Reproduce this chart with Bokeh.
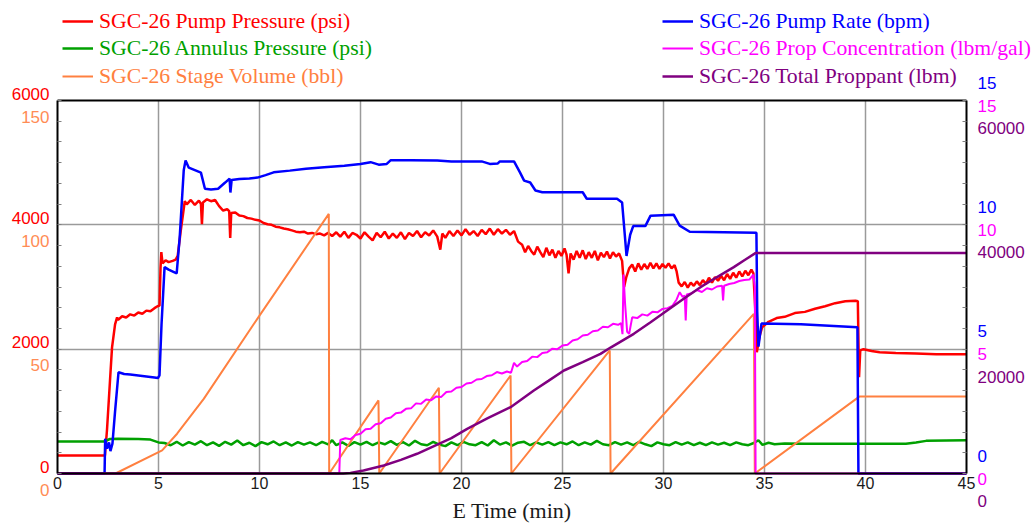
from bokeh.plotting import figure
from bokeh.models import (Range1d, LinearAxis, FixedTicker, Legend, LegendItem,
                          CustomJSTickFormatter)
from bokeh.embed import file_html
from bokeh.resources import INLINE

# ---------------- data (time in minutes, value) ----------------
pump_pressure = [
    (0, 290), (2.35, 290), (2.45, 700), (2.6, 1500), (2.7, 2030), (2.85, 2400), (2.95, 2510),
    (3.0, 2470), (3.2, 2530), (3.4, 2510), (3.6, 2560), (3.8, 2540), (4.0, 2590), (4.2, 2570),
    (4.4, 2620), (4.6, 2610), (4.8, 2660), (4.95, 2690), (5.05, 2700), (5.1, 3300), (5.14, 3560),
    (5.2, 3380), (5.35, 3430), (5.5, 3400), (5.7, 3420), (5.85, 3440), (5.95, 3500), (6.1, 3900),
    (6.3, 4380), (6.4, 4330), (6.6, 4400), (6.8, 4320), (7.0, 4390), (7.1, 4340), (7.15, 4010),
    (7.2, 4360), (7.4, 4410), (7.6, 4380), (7.8, 4400), (8.0, 4300), (8.2, 4230), (8.4, 4250),
    (8.5, 4220), (8.55, 3790), (8.6, 4190), (8.8, 4200), (9.0, 4150), (9.2, 4140), (9.4, 4110),
    (9.6, 4100), (9.8, 4080), (10.0, 4070), (10.2, 4030), (10.4, 4010), (10.6, 4000), (10.8, 3970),
    (11.0, 3960), (11.2, 3940), (11.4, 3930), (11.6, 3910), (11.8, 3890), (12.0, 3880), (12.2, 3890),
    (12.4, 3860), (12.6, 3870), (12.8, 3850), (13.0, 3860), (13.2, 3830), (13.4, 3870), (13.6, 3820),
    (13.8, 3880), (14.0, 3810), (14.2, 3890), (14.4, 3790), (14.6, 3870), (14.8, 3840), (15.0, 3780),
    (15.2, 3880), (15.4, 3810), (15.6, 3750), (15.8, 3870), (16.0, 3800), (16.2, 3890), (16.4, 3780),
    (16.6, 3860), (16.8, 3790), (17.0, 3880), (17.2, 3770), (17.4, 3870), (17.6, 3820), (17.8, 3900),
    (18.0, 3800), (18.2, 3880), (18.4, 3830), (18.6, 3910), (18.8, 3810), (18.95, 3600), (19.05, 3860),
    (19.2, 3790), (19.4, 3900), (19.6, 3820), (19.8, 3910), (20.0, 3830), (20.2, 3930), (20.4, 3840),
    (20.6, 3900), (20.8, 3820), (21.0, 3920), (21.2, 3850), (21.4, 3940), (21.6, 3840), (21.8, 3930),
    (22.0, 3860), (22.2, 3920), (22.4, 3840), (22.6, 3900), (22.8, 3730), (23.0, 3680), (23.15, 3560),
    (23.3, 3660), (23.45, 3580), (23.6, 3520), (23.75, 3650), (23.9, 3560), (24.05, 3480), (24.2, 3630),
    (24.35, 3510), (24.5, 3600), (24.65, 3470), (24.8, 3580), (24.95, 3500), (25.1, 3620), (25.2, 3520),
    (25.3, 3220), (25.4, 3540), (25.55, 3440), (25.7, 3580), (25.85, 3470), (26.0, 3590), (26.15, 3450),
    (26.3, 3560), (26.45, 3470), (26.6, 3580), (26.75, 3430), (26.9, 3550), (27.05, 3480), (27.2, 3570),
    (27.35, 3460), (27.5, 3560), (27.65, 3490), (27.8, 3540), (27.95, 3420), (28.05, 3000), (28.15, 3150),
    (28.3, 3300), (28.45, 3360), (28.6, 3250), (28.75, 3380), (28.9, 3280), (29.05, 3370), (29.2, 3290),
    (29.35, 3390), (29.5, 3300), (29.65, 3380), (29.8, 3290), (29.95, 3370), (30.1, 3310), (30.25, 3380),
    (30.4, 3300), (30.55, 3350), (30.65, 3250), (30.75, 3070), (30.9, 3010), (31.05, 3080), (31.2, 2990),
    (31.35, 3070), (31.5, 3020), (31.65, 3090), (31.8, 3030), (31.95, 3110), (32.1, 3050), (32.25, 3150),
    (32.4, 3070), (32.55, 3160), (32.7, 3100), (32.85, 3180), (33.0, 3110), (33.15, 3210), (33.3, 3130),
    (33.45, 3230), (33.6, 3150), (33.75, 3250), (33.9, 3170), (34.05, 3260), (34.2, 3190), (34.35, 3280),
    (34.45, 3220), (34.55, 2600), (34.62, 1950), (34.75, 2200), (34.88, 2350), (35.2, 2440),
    (35.6, 2500), (36.0, 2520), (36.5, 2580), (37.0, 2600), (37.5, 2650), (38.0, 2690), (38.5, 2740),
    (39.0, 2770), (39.5, 2780), (39.62, 2770), (39.68, 1550), (39.74, 1980), (39.9, 2000),
    (40.3, 1970), (40.7, 1950), (41.5, 1940), (42.5, 1930), (43.5, 1920), (45.0, 1920),
]

annulus_pressure = [
    (0, 515), (2.3, 515), (2.6, 555), (3.0, 560), (4.0, 555), (4.6, 545), (5.0, 500), (5.3, 490),
    (5.6, 455), (5.9, 510), (6.2, 450), (6.5, 505), (6.8, 465), (7.1, 520), (7.4, 455), (7.7, 500),
    (8.0, 445), (8.3, 510), (8.6, 465), (8.9, 530), (9.2, 455), (9.5, 495), (9.8, 440), (10.1, 505),
    (10.4, 470), (10.7, 515), (11.0, 455), (11.3, 500), (11.6, 450), (11.9, 505), (12.2, 465),
    (12.5, 500), (12.8, 455), (13.1, 510), (13.4, 470), (13.6, 535), (13.8, 455), (14.1, 500),
    (14.4, 445), (14.7, 505), (15.0, 465), (15.3, 510), (15.6, 455), (15.9, 500), (16.2, 470),
    (16.5, 520), (16.8, 460), (17.1, 505), (17.4, 450), (17.7, 525), (18.0, 470), (18.3, 455),
    (18.6, 510), (18.9, 465), (19.2, 440), (19.5, 500), (19.8, 455), (20.1, 510), (20.4, 470),
    (20.7, 455), (21.0, 505), (21.3, 450), (21.6, 535), (21.9, 465), (22.2, 500), (22.5, 450),
    (22.8, 495), (23.1, 510), (23.4, 455), (23.7, 500), (24.0, 465), (24.3, 505), (24.6, 455),
    (24.9, 500), (25.2, 470), (25.5, 515), (25.8, 455), (26.1, 500), (26.4, 465), (26.7, 525),
    (27.0, 470), (27.3, 455), (27.6, 505), (27.9, 465), (28.2, 500), (28.5, 455), (28.8, 510),
    (29.1, 470), (29.4, 440), (29.7, 500), (30.0, 470), (30.3, 455), (30.6, 505), (30.9, 465),
    (31.2, 500), (31.5, 455), (31.8, 495), (32.1, 455), (32.4, 500), (32.7, 465), (33.0, 495),
    (33.3, 455), (33.6, 500), (33.9, 470), (34.2, 455), (34.5, 495), (34.7, 535), (34.9, 460),
    (35.2, 495), (35.5, 470), (36.0, 482), (37.0, 478), (38.0, 480), (39.0, 478), (40.0, 478),
    (41.0, 478), (42.0, 480), (42.5, 500), (43.0, 525), (44.0, 530), (45.0, 535),
]

stage_volume = [
    (0, 0), (2.87, 0), (5.18, 9.3), (5.92, 16.0), (7.24, 30.0), (10.0, 63.5), (13.43, 104.4),
    (13.45, 0), (15.89, 29.4), (15.93, 0), (18.88, 34.5), (18.92, 0), (22.43, 39.4), (22.47, 0),
    (27.34, 49.5), (27.38, 0), (34.47, 64.2), (34.52, 0), (39.59, 30.3), (39.7, 31.0), (45.0, 31.0),
]

pump_rate = [
    (0, 0), (2.33, 0), (2.36, 1.4), (2.45, 1.0), (2.55, 1.25), (2.62, 0.9), (2.72, 1.2), (2.85, 2.5),
    (3.02, 4.07), (3.3, 4.0), (3.6, 3.98), (4.0, 3.94), (4.4, 3.9), (4.8, 3.86), (4.97, 3.84),
    (5.05, 3.95), (5.15, 6.0), (5.3, 8.3), (5.5, 8.2), (5.9, 8.05), (6.05, 9.5), (6.25, 12.2),
    (6.34, 12.59), (6.5, 12.3), (6.8, 12.2), (7.1, 12.1), (7.3, 11.45), (7.6, 11.42), (7.95, 11.45),
    (8.3, 11.7), (8.52, 11.86), (8.56, 11.3), (8.62, 11.8), (9.0, 11.84), (9.5, 11.86), (9.9, 11.9),
    (10.3, 12.0), (10.7, 12.11), (11.5, 12.18), (12.3, 12.26), (13.2, 12.32), (14.2, 12.38),
    (15.0, 12.45), (15.5, 12.52), (15.9, 12.42), (16.3, 12.45), (16.5, 12.6), (17.5, 12.6),
    (18.8, 12.59), (19.5, 12.55), (21.0, 12.55), (21.4, 12.45), (21.8, 12.47), (21.9, 12.55),
    (22.6, 12.55), (22.9, 12.1), (23.1, 11.78), (23.4, 11.7), (23.66, 11.38), (24.0, 11.31),
    (26.0, 11.31), (26.2, 11.05), (27.7, 11.05), (27.95, 10.9), (28.17, 8.75), (28.35, 9.6),
    (28.5, 9.95), (29.1, 9.95), (29.36, 10.37), (30.5, 10.41), (30.8, 9.97), (31.3, 9.72),
    (33.0, 9.7), (34.6, 9.68), (34.64, 6.5), (34.7, 5.1), (34.85, 6.03), (36.8, 6.0), (39.6, 5.88),
    (39.65, 0), (45.0, 0),
]

prop_concentration = [
    (0, 0), (13.95, 0), (14.0, 1.35), (14.25, 1.42), (14.5, 1.38), (14.75, 1.55), (15.0, 1.6),
    (15.25, 1.78), (15.5, 1.8), (15.75, 1.98), (16.0, 2.02), (16.25, 2.2), (16.5, 2.25),
    (16.75, 2.42), (17.0, 2.45), (17.25, 2.6), (17.5, 2.62), (17.75, 2.82), (18.0, 2.8),
    (18.25, 2.98), (18.5, 2.95), (18.75, 3.1), (19.0, 3.08), (19.25, 3.28), (19.5, 3.3),
    (19.75, 3.45), (20.0, 3.48), (20.25, 3.62), (20.5, 3.65), (20.75, 3.78), (21.0, 3.8),
    (21.25, 3.92), (21.5, 3.95), (21.75, 4.08), (22.0, 4.02), (22.25, 4.1), (22.45, 4.05),
    (22.6, 4.45), (22.75, 4.3), (23.0, 4.48), (23.25, 4.52), (23.5, 4.7), (23.75, 4.68),
    (24.0, 4.85), (24.25, 4.88), (24.5, 5.02), (24.75, 5.0), (25.0, 5.15), (25.25, 5.18),
    (25.5, 5.35), (25.75, 5.4), (26.0, 5.55), (26.25, 5.58), (26.5, 5.72), (26.75, 5.75),
    (27.0, 5.9), (27.25, 5.88), (27.5, 6.02), (27.75, 5.98), (27.9, 6.05), (27.97, 5.6),
    (28.02, 8.0), (28.1, 6.8), (28.2, 5.7), (28.3, 5.62), (28.45, 6.28), (28.7, 6.25),
    (28.95, 6.4), (29.2, 6.35), (29.45, 6.5), (29.7, 6.48), (29.95, 6.62), (30.2, 6.65),
    (30.45, 6.75), (30.65, 7.0), (30.8, 7.29), (30.95, 7.1), (31.05, 7.15), (31.1, 6.15),
    (31.15, 7.2), (31.4, 7.25), (31.65, 7.38), (31.9, 7.3), (32.15, 7.45), (32.4, 7.4),
    (32.65, 7.52), (32.9, 7.55), (32.95, 6.96), (33.0, 7.55), (33.25, 7.62), (33.5, 7.66),
    (33.75, 7.74), (34.0, 7.78), (34.25, 7.8), (34.45, 8.0), (34.52, 7.5), (34.56, 0), (45.0, 0),
]

total_proppant = [
    (0, 0), (14.15, 0), (14.5, 100), (15.15, 480), (16.15, 1290), (17.0, 2200), (17.8, 3170),
    (18.88, 4780), (19.5, 5700), (20.28, 7190), (21.3, 8900), (22.43, 10670), (23.58, 13350),
    (24.3, 14900), (25.07, 16570), (26.0, 17900), (26.88, 19250), (27.4, 20300), (28.53, 22470),
    (29.36, 24340), (30.18, 26220), (31.0, 28100), (31.83, 29970), (32.65, 31600), (33.48, 33190),
    (34.0, 34300), (34.55, 35450), (45.0, 35450),
]

time_ticks = [0, 5, 10, 15, 20, 25, 30, 35, 40, 45]
pressure_ticks = [0, 2000, 4000, 6000]
volume_ticks = [0, 50, 100, 150]
rate_ticks = [0, 5, 10, 15]
conc_ticks = [0, 5, 10, 15]
proppant_ticks = [0, 20000, 40000, 60000]

series_names = ["SGC-26 Pump Pressure (psi)", "SGC-26 Annulus Pressure (psi)",
                "SGC-26 Stage Volume (bbl)", "SGC-26 Pump Rate (bpm)",
                "SGC-26 Prop Concentration (lbm/gal)", "SGC-26 Total Proppant (lbm)"]

# ---------------- styling / layout ----------------
RED, GREEN, ORANGE = "#ff0000", "#00a000", "#ff8040"
BLUE, PINK, PURPLE = "#0000ff", "#ff00ff", "#800080"
SANS = "Liberation Sans"
SERIF = "Liberation Serif"

W, H = 1032, 525
LEFT, RIGHT, TOP, BOTTOM = 57, 966, 100, 473   # pixel box of the data area
T_MAX, P_MAX = 45, 6000

# the drawing area covers the whole canvas; all axes are pinned at the data-area edges
px_t = (RIGHT - LEFT) / T_MAX
x_lo, x_hi = -LEFT / px_t, T_MAX + (W - RIGHT) / px_t
f_lo, f_hi = -(H - BOTTOM) / (BOTTOM - TOP), 1 + TOP / (BOTTOM - TOP)   # fractions of full scale


def span(full):
    return Range1d(full * f_lo, full * f_hi)


p = figure(width=W, height=H, x_range=Range1d(x_lo, x_hi), y_range=span(P_MAX),
           output_backend="svg", toolbar_location=None,
           min_border_left=0, min_border_right=0, min_border_top=0, min_border_bottom=0,
           background_fill_color="white", border_fill_color="white")
p.outline_line_color = None
p.extra_y_ranges = {"vol": span(150), "rate": span(15), "conc": span(15), "prop": span(60000)}

# grid
p.xgrid.ticker = FixedTicker(ticks=time_ticks[1:-1])
p.ygrid.ticker = FixedTicker(ticks=pressure_ticks[1:-1])
grid_ok = True
try:
    p.xgrid.cross_bounds = (0, P_MAX)
    p.ygrid.cross_bounds = (0, T_MAX)
except Exception:
    grid_ok = False
for g in (p.xgrid, p.ygrid):
    g.grid_line_color = "#9a9a9a"
    g.grid_line_width = 1.5
if not grid_ok:
    p.xgrid.visible = False
    p.ygrid.visible = False
    p.segment(x0=time_ticks[1:-1], y0=[0] * 8, x1=time_ticks[1:-1], y1=[P_MAX] * 8,
              line_color="#9a9a9a", line_width=1.5)
    p.segment(x0=[0, 0], y0=pressure_ticks[1:-1], x1=[T_MAX, T_MAX], y1=pressure_ticks[1:-1],
              line_color="#9a9a9a", line_width=1.5)

# x axis (bottom edge of the data area)
xa = p.xaxis[0]
xa.fixed_location = 0
xa.bounds = (0, T_MAX)
xa.ticker = FixedTicker(ticks=time_ticks)
xa.axis_line_color = "black"
xa.axis_line_width = 2
xa.major_tick_in = 0
xa.major_tick_out = 0
xa.minor_tick_line_color = None
xa.major_label_text_font = SANS
xa.major_label_text_font_size = "16px"
xa.major_label_text_color = "#1a1a1a"
xa.major_label_standoff = 3
xa.axis_label = "E Time (min)"
xa.axis_label_text_font = SERIF
xa.axis_label_text_font_size = "22px"
xa.axis_label_text_font_style = "normal"
xa.axis_label_text_color = "#1a1a1a"
xa.axis_label_standoff = 6

# top border of the data area
ta = LinearAxis(fixed_location=P_MAX, bounds=(0, T_MAX), ticker=FixedTicker(ticks=[]),
                axis_line_color="black", axis_line_width=2, major_tick_line_color=None,
                minor_tick_line_color=None, major_label_text_font_size="0px")
p.add_layout(ta, "above")


def style_y(ax, color, minor=False, line=True, size="17px"):
    ax.axis_line_color = "black" if line else None
    ax.axis_line_width = 2
    ax.major_tick_in = 0
    ax.major_tick_out = 0
    if minor:
        ax.minor_tick_in = 4
        ax.minor_tick_out = 0
        ax.minor_tick_line_color = "#808080"
    else:
        ax.minor_tick_line_color = None
    ax.major_label_text_font = SANS
    ax.major_label_text_font_size = size
    ax.major_label_text_color = color
    ax.major_label_text_baseline = "middle"


# left: pump pressure (red, just above each tick) with stage volume (orange, under it)
ya = p.yaxis[0]
ya.fixed_location = 0
ya.bounds = (0, P_MAX)
ya.ticker = FixedTicker(ticks=pressure_ticks, minor_ticks=[i * P_MAX / 18 for i in range(19)])
ya.formatter = CustomJSTickFormatter(code="return tick + '\\n'")
style_y(ya, RED, minor=True)
ya.major_label_text_line_height = 0.68
ya.major_label_standoff = 8

va = LinearAxis(y_range_name="vol", fixed_location=0, bounds=(0, 150),
                ticker=FixedTicker(ticks=volume_ticks),
                formatter=CustomJSTickFormatter(code="return '\\n' + tick"))
style_y(va, "#ff8c55", line=False)
va.major_label_text_line_height = 1.74
va.major_label_standoff = 8
p.add_layout(va, "left")

# right: rate (blue, above), concentration (magenta), proppant (purple, below)
rb = LinearAxis(y_range_name="rate", fixed_location=T_MAX, bounds=(0, 15),
                ticker=FixedTicker(ticks=rate_ticks, minor_ticks=[i * 15 / 18 for i in range(19)]),
                formatter=CustomJSTickFormatter(code="return tick + '\\n'"))
style_y(rb, BLUE, minor=True)
rb.major_label_text_line_height = 1.84
rb.major_label_standoff = 11
p.add_layout(rb, "right")

rc = LinearAxis(y_range_name="conc", fixed_location=T_MAX, bounds=(0, 15),
                ticker=FixedTicker(ticks=conc_ticks),
                formatter=CustomJSTickFormatter(code="return '\\n' + tick"))
style_y(rc, PINK, line=False)
rc.major_label_text_line_height = 0.58
rc.major_label_standoff = 11
p.add_layout(rc, "right")

rp = LinearAxis(y_range_name="prop", fixed_location=T_MAX, bounds=(0, 60000),
                ticker=FixedTicker(ticks=proppant_ticks),
                formatter=CustomJSTickFormatter(code="return '\\n' + tick"))
style_y(rp, PURPLE, line=False)
rp.major_label_text_line_height = 2.95
rp.major_label_standoff = 11
p.add_layout(rp, "right")

# ---------------- series ----------------
def cols(pairs):
    return [a for a, _ in pairs], [b for _, b in pairs]

t, v = cols(pump_pressure)
r_red = p.line(t, v, line_color=RED, line_width=2.5)
t, v = cols(annulus_pressure)
r_green = p.line(t, v, line_color=GREEN, line_width=2.5)
t, v = cols(stage_volume)
r_orange = p.line(t, v, y_range_name="vol", line_color=ORANGE, line_width=2)
t, v = cols(pump_rate)
r_blue = p.line(t, v, y_range_name="rate", line_color=BLUE, line_width=2.5)
t, v = cols(prop_concentration)
r_pink = p.line(t, v, y_range_name="conc", line_color=PINK, line_width=2)
t, v = cols(total_proppant)
r_purple = p.line(t, v, y_range_name="prop", line_color=PURPLE, line_width=2.5)

# ---------------- legends (one per entry so each gets its own colour) ----------------
row_y = [H - 34, H - 61, H - 89]
legend_spec = [
    (series_names[0], r_red, RED, 62, row_y[0]),
    (series_names[1], r_green, GREEN, 62, row_y[1]),
    (series_names[2], r_orange, ORANGE, 62, row_y[2]),
    (series_names[3], r_blue, BLUE, 662, row_y[0]),
    (series_names[4], r_pink, PINK, 662, row_y[1]),
    (series_names[5], r_purple, PURPLE, 662, row_y[2]),
]
for label, rend, color, lx, ly in legend_spec:
    lg = Legend(items=[LegendItem(label=label, renderers=[rend])], location=(lx, ly),
                glyph_width=31, glyph_height=26, label_height=26, label_standoff=6,
                padding=0, margin=0, spacing=0, border_line_color=None,
                background_fill_alpha=0, label_text_font=SERIF,
                label_text_font_size="21.7px", label_text_color=color)
    p.add_layout(lg)

open("out.html", "w").write(file_html(p, INLINE))
